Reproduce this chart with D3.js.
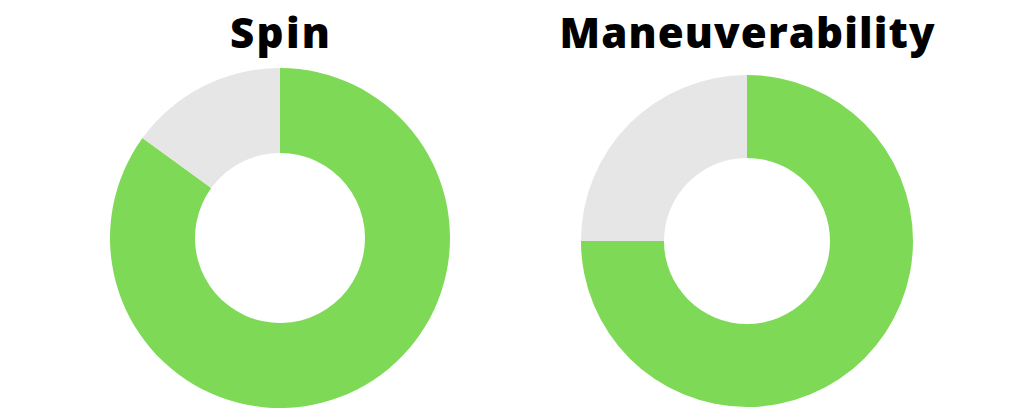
<!DOCTYPE html>
<html>
<head>
<meta charset="utf-8">
<script src="https://cdn.jsdelivr.net/npm/d3@7"></script>
<style>
  html, body { margin: 0; padding: 0; background: #fff; }
</style>
</head>
<body>
<div id="main-container"></div>
<script>
// Data
const TITLES = ['Spin', 'Maneuverability'];
const RATINGS = [85, 75];      // filled share, percent
const REMAINDER = [15, 25];    // empty share, percent

const WIDTH = 1024;
const HEIGHT = 416;
const COLORS = ['#7ed957', '#e6e6e6'];

// Layout per donut (title width matches the original wide heading font)
const CENTERS = [
    { x: 280, y: 238, r: 170, titleY: 48, titleW: 100 },
    { x: 747, y: 241, r: 166, titleY: 48, titleW: 375 }
];

const SVG = d3.select('#main-container').append('svg')
    .attr('width', WIDTH)
    .attr('height', HEIGHT);

const PIE = d3.pie().sort(null).value(d => d);

TITLES.forEach((title, i) => {
    const c = CENTERS[i];
    const g = SVG.append('g')
        .attr('transform', `translate(${c.x}, ${c.y})`);

    const arc = d3.arc()
        .innerRadius(c.r * 0.5)
        .outerRadius(c.r);

    g.selectAll('path')
        .data(PIE([RATINGS[i], REMAINDER[i]]))
        .join('path')
        .attr('d', arc)
        .attr('fill', (d, j) => COLORS[j]);

    SVG.append('text')
        .attr('x', c.x)
        .attr('y', c.titleY)
        .attr('text-anchor', 'middle')
        .attr('textLength', c.titleW)
        .attr('lengthAdjust', 'spacing')
        .style('font-family', '"Open Sans", sans-serif')
        .style('font-weight', 800)
        .style('font-size', '42px')
        .style('fill', '#000')
        .text(title);
});
</script>
</body>
</html>
